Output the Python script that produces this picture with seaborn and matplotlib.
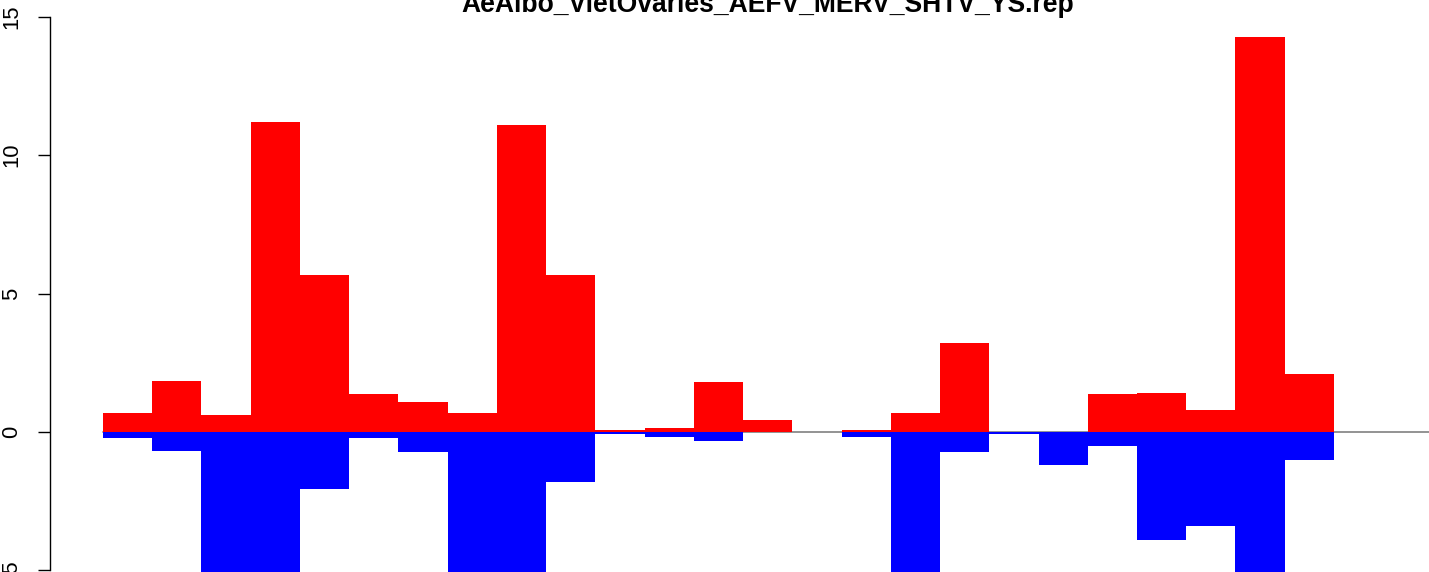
import numpy as np
import pandas as pd
import matplotlib
matplotlib.use("Agg")
import matplotlib.pyplot as plt
import seaborn as sns

# ---- data ----
bins = [str(i) for i in range(1, 28)]
up_values = [0.67, 1.86, 0.63, 11.19, 5.67, 1.39, 1.10, 0.67, 11.11, 5.67,
             0.08, 0.14, 1.79, 0.45, 0.0, 0.08, 0.67, 3.20, 0.0, 0.0,
             1.37, 1.40, 0.78, 14.26, 2.11, 0.0, 0.0]
down_values = [-0.23, -0.69, -6.0, -6.0, -2.07, -0.23, -0.74, -6.0, -6.0, -1.81,
               -0.08, -0.19, -0.33, 0.0, 0.0, -0.19, -6.0, -0.74, -0.08, -1.21,
               -0.52, -3.89, -3.38, -6.0, -1.03, 0.0, 0.0]
y_ticks = [-5, 0, 5, 10, 15]
title = "AeAlbo_VietOvaries_AEFV_MERV_SHTV_YS.rep"

sns.set_theme(style="white")
plt.rcParams["font.family"] = ["Liberation Sans", "DejaVu Sans"]

df = pd.DataFrame({"bin": bins, "up": up_values, "down": down_values})

W, H = 1429, 572
fig = plt.figure(figsize=(W / 100, H / 100), dpi=100)
fig.patch.set_facecolor("white")
ax = fig.add_axes([50 / W, 0, 1379 / W, 1])
ax.set_facecolor("white")

sns.barplot(data=df, x="bin", y="up", order=bins, color="#FF0000", width=1,
            saturation=1, linewidth=0, errorbar=None, ax=ax, zorder=2)
sns.barplot(data=df, x="bin", y="down", order=bins, color="#0000FF", width=1,
            saturation=1, linewidth=0, errorbar=None, ax=ax, zorder=2)
for p in ax.patches:
    p.set_antialiased(False)

ax.axhline(0, xmin=53 / 1379, xmax=1, color="#8a8a8a", lw=1.3, zorder=1)

ax.set_xlim(-1.576, 26.43)
ax.set_ylim(-5.06, 15.61)
ax.set_xticks([])
ax.set_xlabel("")
ax.set_ylabel("")

ax.set_yticks(y_ticks)
ax.set_yticklabels([str(v) for v in y_ticks])
ax.tick_params(axis="y", left=True, length=8.6, width=1.0, pad=11.5,
               labelsize=15.8, direction="out", colors="black")
for lbl in ax.get_yticklabels():
    lbl.set_rotation(90)
    lbl.set_va("center")

for s in ["top", "right", "bottom"]:
    ax.spines[s].set_visible(False)
ax.spines["left"].set_color("black")
ax.spines["left"].set_linewidth(1.0)
ax.spines["left"].set_bounds(-5, 15)

fig.text(767.7 / W, 1 - 12 / H, title, ha="center", va="baseline",
         fontsize=19.1, fontweight="bold", color="black")

fig.savefig("out.png", dpi=100, facecolor="white")
